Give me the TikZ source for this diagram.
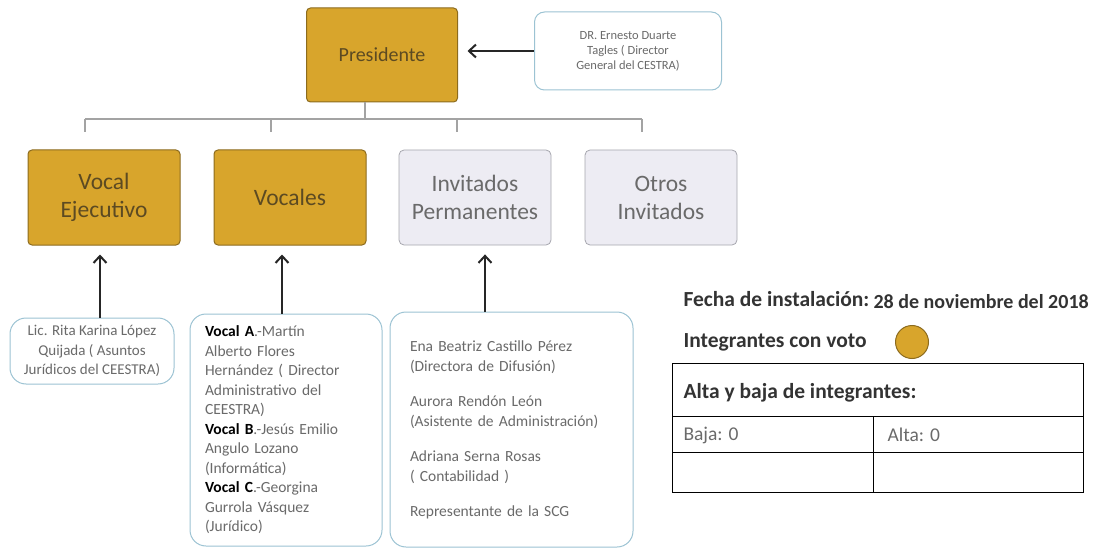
\documentclass[tikz,border=0pt]{standalone}
\usepackage{fontspec}
\setmainfont{Carlito}
\usetikzlibrary{arrows.meta}

\definecolor{oro}{HTML}{D8A52C}
\definecolor{orobor}{HTML}{8C6B1E}
\definecolor{orotxt}{HTML}{5C4A22}
\definecolor{lila}{HTML}{EDECF3}
\definecolor{lilabor}{HTML}{A6A6AE}
\definecolor{grtxt}{HTML}{6A6A6A}
\definecolor{celeste}{HTML}{9CC3D3}
\definecolor{linea}{HTML}{A3A3A3}

\begin{document}
\begin{tikzpicture}[x=1pt, y=-1pt,
    cajaoro/.style={draw=orobor, line width=1pt, fill=oro, rounded corners=4pt,
        text=orotxt, align=center, inner sep=0pt},
    cajagris/.style={draw=lilabor, line width=0.8pt, fill=lila, rounded corners=5pt,
        text=grtxt, align=center, inner sep=0pt},
    cajatexto/.style={draw=celeste, line width=1pt, fill=white, rounded corners=16pt,
        text=grtxt, inner sep=0pt},
    fila/.style={minimum width=152, minimum height=95,
        font=\fontsize{23.5}{28}\selectfont},
    flecha/.style={-{Straight Barb[length=7pt,width=13pt,line width=2pt]},
        line width=2pt, black!85},
    bus/.style={draw=linea, line width=1.3pt},
    dato/.style={anchor=west, text=black!80},
    titulo/.style={dato, font=\bfseries\fontsize{21.5}{26}\selectfont},
  ]
    \useasboundingbox (0,0) rectangle (1097,548);

    % Presidente y director
    \node[cajaoro, minimum width=151, minimum height=94,
        font=\fontsize{20}{24}\selectfont] (presidente) at (382,55) {Presidente};
    \node[cajatexto, rounded corners=10pt, align=center, minimum width=187,
        minimum height=78, font=\fontsize{12.5}{15}\selectfont] (director) at (628,51)
        {DR. Ernesto Duarte\\Tagles ( Director\\General del CESTRA)};
    \draw[flecha, shorten >=9.5pt] (director.west) -- (presidente.east |- director.west);

    % Segunda fila
    \node[cajaoro, fila] (ejecutivo) at (104,197.5) {Vocal\\Ejecutivo};
    \node[cajaoro, fila] (vocales) at (290,197.5) {Vocales};
    \node[cajagris, fila] (permanentes) at (475,197.5) {Invitados\\Permanentes};
    \node[cajagris, fila] (otros) at (661,197.5) {Otros\\Invitados};

    % Barra de enlace
    \coordinate (barra) at (365,119);
    \draw[bus] (presidente.south -| barra) -- (barra);
    \draw[bus] (85,119) -- (642,119);
    \foreach \x in {85,271,457,642} {
        \draw[bus] (\x,119) -- (\x,132);
    }

    % Cajas de integrantes
    \node[cajatexto, minimum width=164, minimum height=66, align=center,
        font=\fontsize{15}{19.5}\selectfont] (lic) at (92,351)
        {Lic. Rita Karina López\\Quijada ( Asuntos\\Jurídicos del CEESTRA)};
    \node[cajatexto, minimum width=192, minimum height=232, text width=162, align=left,
        font=\fontsize{15.5}{19.5}\selectfont] (integrantes) at (286,430)
        {\textbf{\color{black}Vocal A}.-Martín\\Alberto Flores\\Hernández ( Director\\
         Administrativo del\\CEESTRA)\\\textbf{\color{black}Vocal B}.-Jesús Emilio\\
         Angulo Lozano\\(Informática)\\\textbf{\color{black}Vocal C}.-Georgina\\
         Gurrola Vásquez\\(Jurídico)};
    \node[cajatexto, minimum width=243, minimum height=235, text width=203, align=left,
        font=\fontsize{15.5}{20.5}\selectfont] (invitados) at (511.5,429.5)
        {Ena Beatriz Castillo Pérez\\(Directora de Difusión)\\[14pt]
         Aurora Rendón León\\(Asistente de Administración)\\[14pt]
         Adriana Serna Rosas\\( Contabilidad )\\[14pt]
         Representante de la SCG};

    \draw[flecha, shorten >=9pt] (lic.north -| 100,0) -- (ejecutivo.south -| 100,0);
    \draw[flecha, shorten >=9pt] (integrantes.north -| 282,0) -- (vocales.south -| 282,0);
    \draw[flecha, shorten >=9pt] (invitados.north -| 485,0) -- (permanentes.south -| 485,0);

    % Datos de la instalacion
    \node[titulo] (fecha) at (680,299) {Fecha de instalación:};
    \node[dato, font=\bfseries\fontsize{20}{24}\selectfont] (dia) at (870,302)
        {28 de noviembre del 2018};
    \node[titulo] (voto) at (680,342) {Integrantes con voto};
    \node[circle, fill=oro, draw=orobor, line width=1pt, minimum size=33, inner sep=0pt]
        (circulo) at (912,342) {};

    % Tabla de altas y bajas
    \draw[line width=1pt] (672,363) rectangle (1083,492);
    \draw[line width=1pt] (672,416) -- (1083,416);
    \draw[line width=1pt] (672,452) -- (1083,452);
    \draw[line width=1pt] (873,416) -- (873,492);
    \node[titulo] (altabaja) at (680,393) {Alta y baja de integrantes:};
    \node[dato, text=grtxt, font=\fontsize{19.5}{22}\selectfont] (baja) at (680,435) {Baja: 0};
    \node[dato, text=grtxt, font=\fontsize{19.5}{22}\selectfont] (alta) at (884,435) {Alta: 0};
\end{tikzpicture}
\end{document}
